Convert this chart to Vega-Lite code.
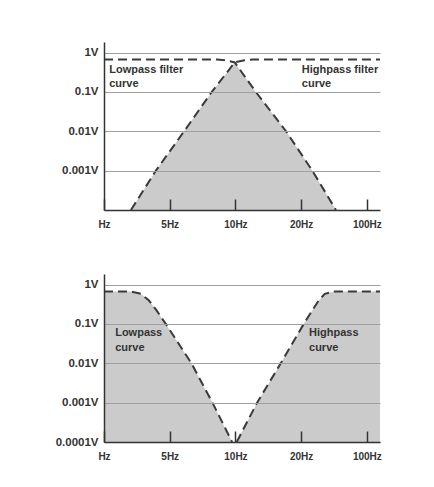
{
  "$schema": "https://vega.github.io/schema/vega-lite/v6.json",
  "padding": {"left": 55, "top": 42, "right": 5, "bottom": 5},
  "background": "white",
  "spacing": 45,
  "config": {
    "view": {"stroke": null},
    "axis": {
      "labelFont": "Liberation Sans",
      "labelFontWeight": "bold",
      "labelColor": "#333333",
      "domainColor": "#333333",
      "domainWidth": 1.5,
      "title": null
    }
  },
  "datasets": {
    "topLines": [
      {"series": "Lowpass", "x": 0, "y": 0.66},
      {"series": "Lowpass", "x": 1.72, "y": 0.66},
      {"series": "Lowpass", "x": 1.86, "y": 0.63},
      {"series": "Lowpass", "x": 1.99, "y": 0.56},
      {"series": "Lowpass", "x": 2.31, "y": 0.1},
      {"series": "Lowpass", "x": 2.77, "y": 0.01},
      {"series": "Lowpass", "x": 3.17, "y": 0.001},
      {"series": "Lowpass", "x": 3.53, "y": 0.0001},
      {"series": "Highpass", "x": 0.41, "y": 0.0001},
      {"series": "Highpass", "x": 0.79, "y": 0.001},
      {"series": "Highpass", "x": 1.22, "y": 0.01},
      {"series": "Highpass", "x": 1.64, "y": 0.1},
      {"series": "Highpass", "x": 1.99, "y": 0.56},
      {"series": "Highpass", "x": 2.12, "y": 0.63},
      {"series": "Highpass", "x": 2.26, "y": 0.66},
      {"series": "Highpass", "x": 4.2, "y": 0.66}
    ],
    "topFill": [
      {"x": 0.41, "y": 0.0001},
      {"x": 0.79, "y": 0.001},
      {"x": 1.22, "y": 0.01},
      {"x": 1.64, "y": 0.1},
      {"x": 1.99, "y": 0.56},
      {"x": 2.31, "y": 0.1},
      {"x": 2.77, "y": 0.01},
      {"x": 3.17, "y": 0.001},
      {"x": 3.53, "y": 0.0001}
    ],
    "topLabels": [
      {"label": "Lowpass filter", "x": 0.08, "y": 0.35},
      {"label": "curve", "x": 0.08, "y": 0.163},
      {"label": "Highpass filter", "x": 3.01, "y": 0.35},
      {"label": "curve", "x": 3.01, "y": 0.163}
    ],
    "bottomLines": [
      {"series": "Lowpass", "x": 0, "y": 0.66},
      {"series": "Lowpass", "x": 0.42, "y": 0.66},
      {"series": "Lowpass", "x": 0.56, "y": 0.58},
      {"series": "Lowpass", "x": 0.68, "y": 0.4},
      {"series": "Lowpass", "x": 0.8, "y": 0.22},
      {"series": "Lowpass", "x": 0.94, "y": 0.1},
      {"series": "Lowpass", "x": 1.33, "y": 0.01},
      {"series": "Lowpass", "x": 1.65, "y": 0.001},
      {"series": "Lowpass", "x": 1.95, "y": 0.0001},
      {"series": "Highpass", "x": 2.02, "y": 0.0001},
      {"series": "Highpass", "x": 2.33, "y": 0.001},
      {"series": "Highpass", "x": 2.69, "y": 0.01},
      {"series": "Highpass", "x": 3.04, "y": 0.1},
      {"series": "Highpass", "x": 3.17, "y": 0.22},
      {"series": "Highpass", "x": 3.27, "y": 0.4},
      {"series": "Highpass", "x": 3.36, "y": 0.58},
      {"series": "Highpass", "x": 3.5, "y": 0.66},
      {"series": "Highpass", "x": 4.2, "y": 0.66}
    ],
    "bottomLabels": [
      {"label": "Lowpass", "x": 0.17, "y": 0.06},
      {"label": "curve", "x": 0.17, "y": 0.025},
      {"label": "Highpass", "x": 3.12, "y": 0.06},
      {"label": "curve", "x": 3.12, "y": 0.025}
    ]
  },
  "vconcat": [
    {
      "width": 276,
      "height": 168,
      "encoding": {
        "x": {
          "field": "x", "type": "quantitative",
          "scale": {"domain": [0, 4.2], "nice": false, "zero": false},
          "axis": {
            "values": [0, 1, 2, 3, 4],
            "labelExpr": "['Hz','5Hz','10Hz','20Hz','100Hz'][datum.value]",
            "grid": false, "tickSize": -11, "tickColor": "#333333", "tickWidth": 1.5,
            "labelPadding": 20, "labelFontSize": 10, "labelFlush": false, "zindex": 1
          }
        },
        "y": {
          "field": "y", "type": "quantitative",
          "scale": {"type": "log", "domain": [0.0001, 1.85], "nice": false},
          "axis": {
            "values": [1, 0.1, 0.01, 0.001],
            "labelExpr": "format(datum.value, '~g') + 'V'",
            "grid": true, "gridColor": "#a0a0a0", "gridWidth": 1,
            "ticks": false, "labelPadding": 6, "labelFontSize": 11.5, "zindex": 1
          }
        }
      },
      "layer": [
        {
          "data": {"name": "topFill"},
          "mark": {"type": "area", "color": "#cbcbcb"},
          "encoding": {"y2": {"datum": 0.0001}}
        },
        {
          "data": {"name": "topLines"},
          "mark": {"type": "line", "color": "#3a3a3a", "strokeWidth": 2, "strokeDash": [9, 5]},
          "encoding": {"detail": {"field": "series"}}
        },
        {
          "data": {"name": "topLabels"},
          "mark": {"type": "text", "align": "left", "baseline": "middle", "font": "Liberation Sans", "fontWeight": "bold", "fontSize": 11, "color": "#333333"},
          "encoding": {"text": {"field": "label"}}
        }
      ]
    },
    {
      "width": 276,
      "height": 168,
      "encoding": {
        "x": {
          "field": "x", "type": "quantitative",
          "scale": {"domain": [0, 4.2], "nice": false, "zero": false},
          "axis": {
            "values": [0, 1, 2, 3, 4],
            "labelExpr": "['Hz','5Hz','10Hz','20Hz','100Hz'][datum.value]",
            "grid": false, "tickSize": -11, "tickColor": "#333333", "tickWidth": 1.5,
            "labelPadding": 20, "labelFontSize": 10, "labelFlush": false, "zindex": 1
          }
        },
        "y": {
          "field": "y", "type": "quantitative",
          "scale": {"type": "log", "domain": [0.0001, 1.85], "nice": false},
          "axis": {
            "values": [1, 0.1, 0.01, 0.001, 0.0001],
            "labelExpr": "format(datum.value, '~g') + 'V'",
            "grid": true, "gridColor": "#a0a0a0", "gridWidth": 1,
            "ticks": false, "labelPadding": 6, "labelFontSize": 11.5, "zindex": 1
          }
        }
      },
      "layer": [
        {
          "data": {"name": "bottomLines"},
          "mark": {"type": "area", "color": "#cbcbcb"},
          "encoding": {"y2": {"datum": 0.0001}, "detail": {"field": "series"}}
        },
        {
          "data": {"name": "bottomLines"},
          "mark": {"type": "line", "color": "#3a3a3a", "strokeWidth": 2, "strokeDash": [9, 5]},
          "encoding": {"detail": {"field": "series"}}
        },
        {
          "data": {"name": "bottomLabels"},
          "mark": {"type": "text", "align": "left", "baseline": "middle", "font": "Liberation Sans", "fontWeight": "bold", "fontSize": 11, "color": "#333333"},
          "encoding": {"text": {"field": "label"}}
        }
      ]
    }
  ]
}
